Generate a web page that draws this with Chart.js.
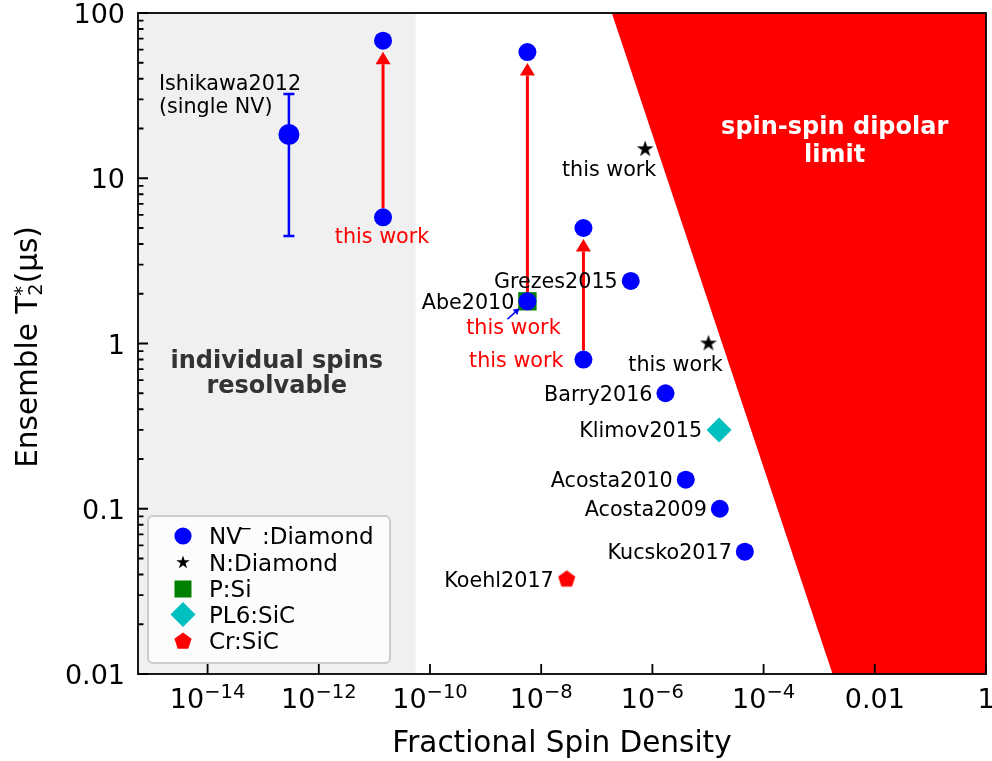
<!DOCTYPE html>
<html>
<head>
<meta charset="utf-8">
<script src="https://cdn.jsdelivr.net/npm/chart.js@4.4.1/dist/chart.umd.min.js"></script>
<style>
  body { margin: 0; background: #fff; }
  canvas { display: block; }
</style>
</head>
<body>
<canvas id="t2Chart" width="992" height="761"></canvas>
<script>
const FONT = "'DejaVu Sans', Verdana, sans-serif"

// axis ranges
const densityMin = 5.6e-16
const densityMax = 1
const t2Min = 0.01
const t2Max = 100

// tick labels
const xTickValues = [1e-14, 1e-12, 1e-10, 1e-8, 1e-6, 1e-4, 0.01, 1]
const xTickBase = ["10", "10", "10", "10", "10", "10", "0.01", "1"]
const xTickPower = ["−14", "−12", "−10", "−8", "−6", "−4", "", ""]
const yTickValues = [0.01, 0.1, 1, 10, 100]
const yTickText = ["0.01", "0.1", "1", "10", "100"]

// NV- : diamond  (Ishikawa, this work x3 pairs, literature)
const nvDensity = [2.9e-13, 1.43e-11, 1.43e-11, 5.65e-9, 5.65e-9, 5.75e-8, 5.75e-8, 4.08e-7, 1.72e-6, 3.98e-6, 1.63e-5, 4.6e-5]
const nvT2 = [18.4, 68, 5.8, 58, 1.8, 5.0, 0.8, 2.39, 0.5, 0.15, 0.1, 0.055]
const ishikawaRange = [4.47, 32.4]

// N : diamond
const nDensity = [7.4e-7, 1.02e-5]
const nT2 = [15, 1.0]

// P : Si
const pDensity = [5.65e-9]
const pT2 = [1.8]

// PL6 : SiC
const pl6Density = [1.58e-5]
const pl6T2 = [0.3]

// Cr : SiC
const crDensity = [2.88e-8]
const crT2 = [0.0374]

// before -> after for the samples improved in this work
const gainDensity = [1.43e-11, 5.65e-9, 5.75e-8]
const gainFrom = [5.8, 1.8, 0.8]
const gainTo = [68, 58, 5.0]

// dipolar limit edge and single-spin region edge
const limitDensity = [1.86e-7, 1.74e-3]
const limitT2 = [100, 0.01]
const resolvableEdge = 5.5e-11

// literature labels
const refNames = ["Grezes2015", "Abe2010", "Barry2016", "Klimov2015", "Acosta2010", "Acosta2009", "Kucsko2017", "Koehl2017"]
const refDensity = [4.08e-7, 5.65e-9, 1.72e-6, 1.58e-5, 3.98e-6, 1.63e-5, 4.6e-5, 2.88e-8]
const refT2 = [2.39, 1.8, 0.5, 0.3, 0.15, 0.1, 0.055, 0.0374]

const toPoints = (xs, ys) => xs.map((x, i) => ({ x, y: ys[i] }))

function starPath(ctx, cx, cy, r) {
  ctx.beginPath()
  for (let k = 0; k < 10; k++) {
    const rr = k % 2 ? r * 0.382 : r
    const ang = -Math.PI / 2 + (k * Math.PI) / 5
    ctx.lineTo(cx + rr * Math.cos(ang), cy + rr * Math.sin(ang))
  }
  ctx.closePath()
}

function pentagonPath(ctx, cx, cy, r) {
  ctx.beginPath()
  for (let k = 0; k < 5; k++) {
    const ang = -Math.PI / 2 + (k * 2 * Math.PI) / 5
    ctx.lineTo(cx + r * Math.cos(ang), cy + r * Math.sin(ang))
  }
  ctx.closePath()
}

function markerCanvas(path, r, color) {
  const c = document.createElement("canvas")
  c.width = c.height = Math.ceil(2 * r + 4)
  const g = c.getContext("2d")
  path(g, c.width / 2, c.height / 2, r)
  g.fillStyle = color
  g.fill()
  return c
}

const starImg = markerCanvas(starPath, 8.8, "#000000")
const pentagonImg = markerCanvas(pentagonPath, 9, "#ff0000")

function arrow(ctx, x0, y0, x1, y1, head, half) {
  const ang = Math.atan2(y1 - y0, x1 - x0)
  const bx = x1 - head * Math.cos(ang)
  const by = y1 - head * Math.sin(ang)
  ctx.beginPath()
  ctx.moveTo(x0, y0)
  ctx.lineTo(bx, by)
  ctx.stroke()
  ctx.beginPath()
  ctx.moveTo(x1, y1)
  ctx.lineTo(bx + half * Math.sin(ang), by - half * Math.cos(ang))
  ctx.lineTo(bx - half * Math.sin(ang), by + half * Math.cos(ang))
  ctx.closePath()
  ctx.fill()
}

function text(ctx, str, px, py, align, font, color) {
  ctx.font = font
  ctx.fillStyle = color
  ctx.textAlign = align
  ctx.textBaseline = "alphabetic"
  ctx.fillText(str, px, py)
}

const decorations = {
  id: "decorations",
  beforeDatasetsDraw(chart) {
    const { ctx, chartArea: a } = chart
    const x = chart.scales.x
    const y = chart.scales.y
    ctx.save()

    // individual spins resolvable
    ctx.fillStyle = "#f0f0f0"
    ctx.fillRect(a.left, a.top, x.getPixelForValue(resolvableEdge) - a.left, a.bottom - a.top)

    // spin-spin dipolar limit
    ctx.fillStyle = "#ff0000"
    ctx.beginPath()
    ctx.moveTo(x.getPixelForValue(limitDensity[0]), y.getPixelForValue(limitT2[0]))
    ctx.lineTo(x.getPixelForValue(limitDensity[1]), y.getPixelForValue(limitT2[1]))
    ctx.lineTo(a.right, a.bottom)
    ctx.lineTo(a.right, a.top)
    ctx.closePath()
    ctx.fill()

    // Ishikawa error bar
    const ex = x.getPixelForValue(nvDensity[0])
    const eLo = y.getPixelForValue(ishikawaRange[0])
    const eHi = y.getPixelForValue(ishikawaRange[1])
    ctx.strokeStyle = "#0000ff"
    ctx.lineWidth = 2.5
    ctx.beginPath()
    ctx.moveTo(ex, eLo); ctx.lineTo(ex, eHi)
    ctx.moveTo(ex - 5.5, eLo); ctx.lineTo(ex + 5.5, eLo)
    ctx.moveTo(ex - 5.5, eHi); ctx.lineTo(ex + 5.5, eHi)
    ctx.stroke()

    // improvement arrows
    ctx.strokeStyle = "#ff0000"
    ctx.fillStyle = "#ff0000"
    ctx.lineWidth = 3
    gainDensity.forEach((d, i) => {
      const px = x.getPixelForValue(d)
      arrow(ctx, px, y.getPixelForValue(gainFrom[i]) - 9, px, y.getPixelForValue(gainTo[i]) + 11, 12.5, 7.5)
    })
    ctx.restore()
  },

  afterDatasetsDraw(chart) {
    const { ctx, chartArea: a } = chart
    const x = chart.scales.x
    const y = chart.scales.y
    const f20 = "20.7px " + FONT
    ctx.save()

    // literature labels, to the left of each point
    refNames.forEach((name, i) => {
      const gap = name === "Klimov2015" ? 17 : 13
      text(ctx, name, x.getPixelForValue(refDensity[i]) - gap, y.getPixelForValue(refT2[i]) + 7.5, "right", f20, "#000")
    })

    // Abe2010 pointer
    const ax = x.getPixelForValue(refDensity[1])
    const ay = y.getPixelForValue(refT2[1])
    ctx.strokeStyle = "#0000ff"
    ctx.fillStyle = "#0000ff"
    ctx.lineWidth = 1.5
    arrow(ctx, ax - 20, ay + 18, ax - 8, ay + 7, 6, 3.5)

    // Ishikawa
    const ix = x.getPixelForValue(nvDensity[0])
    const iy = y.getPixelForValue(nvT2[0])
    text(ctx, "Ishikawa2012", ix - 130, iy - 44, "left", f20, "#000")
    text(ctx, "(single NV)", ix - 130, iy - 21, "left", f20, "#000")

    // this work, red for the arrows
    const g = gainDensity.map((d, i) => [x.getPixelForValue(d), y.getPixelForValue(gainFrom[i])])
    text(ctx, "this work", g[0][0] - 1, g[0][1] + 26, "center", f20, "#ff0000")
    text(ctx, "this work", g[1][0] - 14, g[1][1] + 33, "center", f20, "#ff0000")
    text(ctx, "this work", g[2][0] - 20, g[2][1] + 7, "right", f20, "#ff0000")

    // this work, black for N:diamond
    text(ctx, "this work", x.getPixelForValue(nDensity[0]) - 36, y.getPixelForValue(nT2[0]) + 27, "center", f20, "#000")
    text(ctx, "this work", x.getPixelForValue(nDensity[1]) - 33, y.getPixelForValue(nT2[1]) + 27, "center", f20, "#000")

    // region labels
    const b24 = "bold 24px " + FONT
    const rx = (a.left + x.getPixelForValue(resolvableEdge)) / 2
    const ry = y.getPixelForValue(0.6)
    text(ctx, "individual spins", rx, ry - 12, "center", b24, "#333333")
    text(ctx, "resolvable", rx, ry + 13, "center", b24, "#333333")
    const lx = x.getPixelForValue(1.9e-3)
    const ly = y.getPixelForValue(15.2)
    text(ctx, "spin-spin dipolar", lx, ly - 14, "center", b24, "#ffffff")
    text(ctx, "limit", lx, ly + 14, "center", b24, "#ffffff")

    // frame and inward ticks
    ctx.strokeStyle = "#000"
    ctx.lineWidth = 1.8
    ctx.strokeRect(a.left, a.top, a.right - a.left, a.bottom - a.top)
    ctx.beginPath()
    yTickValues.forEach(v => {
      const py = y.getPixelForValue(v)
      ctx.moveTo(a.left, py); ctx.lineTo(a.left + 10, py)
    })
    yTickValues.slice(0, -1).forEach(v => {
      for (let m = 2; m < 10; m++) {
        const py = y.getPixelForValue(v * m)
        ctx.moveTo(a.left, py); ctx.lineTo(a.left + 5.5, py)
      }
    })
    xTickValues.forEach(v => {
      const px = x.getPixelForValue(v)
      ctx.moveTo(px, a.bottom); ctx.lineTo(px, a.bottom - 10)
    })
    ctx.stroke()

    // tick labels
    const tf = "27px " + FONT
    const sf = "19.5px " + FONT
    yTickValues.forEach((v, i) => {
      text(ctx, yTickText[i], a.left - 13, y.getPixelForValue(v) + 10, "right", tf, "#000")
    })
    xTickValues.forEach((v, i) => {
      const px = x.getPixelForValue(v)
      const base = a.bottom + 34
      ctx.font = tf
      const w1 = ctx.measureText(xTickBase[i]).width
      ctx.font = sf
      const w2 = xTickPower[i] ? ctx.measureText(xTickPower[i]).width : 0
      const left = px - (w1 + w2) / 2
      text(ctx, xTickBase[i], left, base, "left", tf, "#000")
      if (xTickPower[i]) text(ctx, xTickPower[i], left + w1, base - 10, "left", sf, "#000")
    })

    // axis titles
    text(ctx, "Fractional Spin Density", (a.left + a.right) / 2, a.bottom + 78, "center", "29.5px " + FONT, "#000")
    ctx.save()
    ctx.translate(37, 347)
    ctx.rotate(-Math.PI / 2)
    const mf = "29.5px " + FONT
    ctx.font = mf
    const t1 = "Ensemble T"
    const t3 = "(μs)"
    const w1 = ctx.measureText(t1).width
    const w3 = ctx.measureText(t3).width
    ctx.font = sf
    const w2 = Math.max(ctx.measureText("2").width, ctx.measureText("*").width)
    let sx = -(w1 + w2 + w3) / 2
    text(ctx, t1, sx, 0, "left", mf, "#000")
    text(ctx, "2", sx + w1, 5, "left", sf, "#000")
    text(ctx, "*", sx + w1, -9, "left", sf, "#000")
    text(ctx, t3, sx + w1 + w2, 0, "left", mf, "#000")
    ctx.restore()

    // legend
    const lg = { left: 148, top: 516, w: 242, h: 147 }
    ctx.beginPath()
    ctx.roundRect(lg.left, lg.top, lg.w, lg.h, 5)
    ctx.fillStyle = "rgba(255,255,255,0.8)"
    ctx.fill()
    ctx.strokeStyle = "#cccccc"
    ctx.lineWidth = 2
    ctx.stroke()
    const mx = 183
    const rows = [536, 562.5, 589, 614.5, 640.5]
    const lf = "23px " + FONT
    ctx.fillStyle = "#0000ff"
    ctx.beginPath(); ctx.arc(mx, rows[0], 8.6, 0, 2 * Math.PI); ctx.fill()
    starPath(ctx, mx, rows[1], 7); ctx.fillStyle = "#000"; ctx.fill()
    ctx.fillStyle = "#008000"; ctx.fillRect(mx - 8.5, rows[2] - 8.5, 17, 17)
    ctx.fillStyle = "#00bfbf"
    ctx.beginPath()
    ctx.moveTo(mx - 12.5, rows[3]); ctx.lineTo(mx, rows[3] - 12.5)
    ctx.lineTo(mx + 12.5, rows[3]); ctx.lineTo(mx, rows[3] + 12.5)
    ctx.closePath(); ctx.fill()
    pentagonPath(ctx, mx, rows[4] + 1, 9); ctx.fillStyle = "#ff0000"; ctx.fill()
    text(ctx, "NV", 209, rows[0] + 8, "left", lf, "#000")
    text(ctx, "−", 238, rows[0] - 2, "left", "17px " + FONT, "#000")
    text(ctx, ":Diamond", 262, rows[0] + 8, "left", lf, "#000")
    text(ctx, "N:Diamond", 209, rows[1] + 8, "left", lf, "#000")
    text(ctx, "P:Si", 209, rows[2] + 8, "left", lf, "#000")
    text(ctx, "PL6:SiC", 209, rows[3] + 8, "left", lf, "#000")
    text(ctx, "Cr:SiC", 209, rows[4] + 8, "left", lf, "#000")
    ctx.restore()
  },
}

const axisBase = {
  type: "logarithmic",
  grid: { display: false },
  border: { display: false },
  ticks: { display: false },
}

new Chart(document.getElementById("t2Chart"), {
  type: "scatter",
  data: {
    datasets: [
      {
        label: "NV⁻:Diamond",
        data: toPoints(nvDensity, nvT2),
        pointStyle: "circle",
        pointRadius: c => (c.dataIndex === 0 ? 10.5 : 9),
        pointBackgroundColor: "#0000ff",
        pointBorderWidth: 0,
      },
      {
        label: "N:Diamond",
        data: toPoints(nDensity, nT2),
        pointStyle: starImg,
        pointRadius: 8,
        pointBorderWidth: 0,
      },
      {
        label: "P:Si",
        data: toPoints(pDensity, pT2),
        pointStyle: "rect",
        pointRadius: 13,
        pointBackgroundColor: "#008000",
        pointBorderWidth: 0,
      },
      {
        label: "PL6:SiC",
        data: toPoints(pl6Density, pl6T2),
        pointStyle: "rectRot",
        pointRadius: 12.5,
        pointBackgroundColor: "#00bfbf",
        pointBorderWidth: 0,
      },
      {
        label: "Cr:SiC",
        data: toPoints(crDensity, crT2),
        pointStyle: pentagonImg,
        pointRadius: 8,
        pointBorderWidth: 0,
      },
    ],
  },
  options: {
    responsive: false,
    animation: false,
    events: [],
    layout: { autoPadding: false, padding: { top: 13, right: 6, left: 0, bottom: 0 } },
    plugins: { legend: { display: false }, tooltip: { enabled: false } },
    scales: {
      x: { ...axisBase, min: densityMin, max: densityMax, afterFit: s => { s.height = 87 } },
      y: { ...axisBase, min: t2Min, max: t2Max, afterFit: s => { s.width = 138 } },
    },
  },
  plugins: [decorations],
})
</script>
</body>
</html>
